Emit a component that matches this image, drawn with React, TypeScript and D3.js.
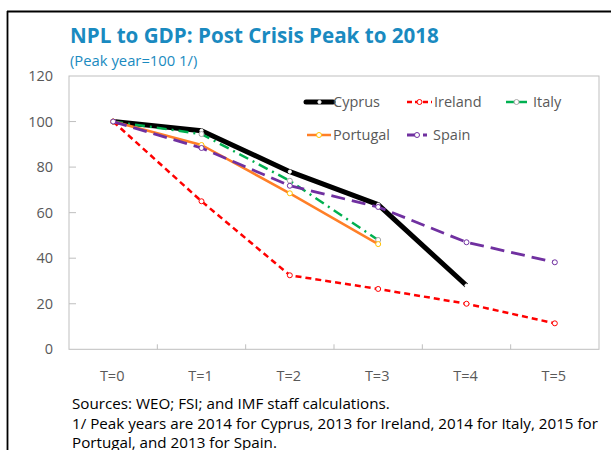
import React from "react";
import * as d3 from "d3";

const categories = ["T=0", "T=1", "T=2", "T=3", "T=4", "T=5"];
const yTicks = [0, 20, 40, 60, 80, 100, 120];

const cyprus = [100, 96, 78, 63.5, 28];
const ireland = [100, 65, 32.5, 26.5, 20, 11.4];
const italy = [100, 94.5, 74, 48];
const portugal = [100, 89.7, 68.5, 46.2];
const spain = [100, 88.4, 71.8, 62.5, 47, 38.2];

const series = [
  { name: "Cyprus", values: cyprus, color: "#000000", width: 5, dash: "", marker: "#ffffff", markerStroke: "#ffffff", r: 1.6 },
  { name: "Ireland", values: ireland, color: "#ff0000", width: 2.5, dash: "6 4", marker: "#ffffff", markerStroke: "#ff0000", r: 2.5 },
  { name: "Italy", values: italy, color: "#00b050", width: 2.5, dash: "10 5 2 5", marker: "#ffffff", markerStroke: "#a6a6a6", r: 2.5 },
  { name: "Portugal", values: portugal, color: "#ff7f27", width: 2.5, dash: "", marker: "#ffffff", markerStroke: "#ffc000", r: 2.5 },
  { name: "Spain", values: spain, color: "#7030a0", width: 2.8, dash: "14 7", marker: "#ffffff", markerStroke: "#7030a0", r: 2.5 },
];

// legend layout: [sample x0, sample x1, text x, row y]
const legendPos: Record<string, [number, number, number, number]> = {
  Cyprus: [306, 333, 333, 102],
  Ireland: [407, 432, 434, 102],
  Italy: [506, 527, 533, 102],
  Portugal: [307, 331, 333, 135],
  Spain: [407, 427, 433, 135],
};

const font = "'Open Sans', 'Noto Sans', sans-serif";
const grey = "#595959";

export default function App() {
  const plot = { left: 69, right: 599, top: 76, bottom: 349.3 };

  const x = d3.scaleBand<string>().domain(categories).range([plot.left, plot.right]);
  const y = d3.scaleLinear().domain([0, 120]).range([plot.bottom, plot.top]);
  const cx = (i: number) => (x(categories[i]) as number) + x.bandwidth() / 2;

  const line = d3
    .line<number>()
    .x((_, i) => cx(i))
    .y((d) => y(d));

  return (
    <svg
      width={611}
      height={450}
      style={{ position: "absolute", left: 0, top: 0, display: "block", background: "#fff" }}
    >
      {/* outer frame */}
      <line x1={7} y1={11.5} x2={611} y2={11.5} stroke="#000" strokeWidth={1.8} />
      <line x1={7.5} y1={11} x2={7.5} y2={450} stroke="#000" strokeWidth={1.8} />

      {/* title */}
      <text x={70} y={43} fontFamily={font} fontWeight="bold" fontSize={20.6} fill="#1a8ac0">
        NPL to GDP: Post Crisis Peak to 2018
      </text>
      <text x={70} y={66} fontFamily={font} fontSize={14.8} fill="#1a8ac0">
        (Peak year=100 1/)
      </text>

      {/* plot frame */}
      <rect
        x={plot.left}
        y={plot.top}
        width={plot.right - plot.left}
        height={plot.bottom - plot.top}
        fill="none"
        stroke="#bfbfbf"
        strokeWidth={1}
      />

      {/* y axis */}
      {yTicks.map((t) => (
        <g key={t}>
          {t > 0 && t < 120 && (
            <line x1={plot.left} x2={plot.left + 7} y1={y(t)} y2={y(t)} stroke="#bfbfbf" />
          )}
          <text
            x={53}
            y={y(t)}
            dy="0.35em"
            textAnchor="end"
            fontFamily={font}
            fontSize={14.5}
            fill={grey}
          >
            {t}
          </text>
        </g>
      ))}

      {/* x axis */}
      {categories.map((c, i) => (
        <g key={c}>
          {i > 0 && (
            <line
              x1={x(c) as number}
              x2={x(c) as number}
              y1={plot.bottom}
              y2={plot.bottom - 5}
              stroke="#bfbfbf"
            />
          )}
          <text
            x={cx(i) - 1}
            y={376}
            dy="0.35em"
            textAnchor="middle"
            fontFamily={font}
            fontSize={14.5}
            fill={grey}
          >
            {c}
          </text>
        </g>
      ))}

      {/* series */}
      {series.map((s) => (
        <g key={s.name}>
          <path
            d={line(s.values) || ""}
            fill="none"
            stroke={s.color}
            strokeWidth={s.width}
            strokeDasharray={s.dash}
            strokeLinejoin="round"
          />
          {s.values.map((v, i) => (
            <circle
              key={i}
              cx={cx(i)}
              cy={y(v)}
              r={s.r}
              fill={s.marker}
              stroke={s.markerStroke}
              strokeWidth={1}
            />
          ))}
        </g>
      ))}

      {/* legend */}
      {series.map((s) => {
        const [x0, x1, tx, ly] = legendPos[s.name];
        return (
          <g key={s.name}>
            <line
              x1={x0}
              x2={x1}
              y1={ly}
              y2={ly}
              stroke={s.color}
              strokeWidth={s.width}
              strokeDasharray={s.name === "Ireland" ? "5 3" : s.name === "Italy" ? "" : s.dash ? "12 4" : ""}
              strokeLinecap={s.name === "Cyprus" ? "round" : "butt"}
            />
            <circle
              cx={(x0 + x1) / 2}
              cy={ly}
              r={s.r}
              fill={s.marker}
              stroke={s.markerStroke}
              strokeWidth={1}
            />
            <text x={tx} y={ly} dy="0.35em" fontFamily={font} fontSize={14.5} fill={grey}>
              {s.name}
            </text>
          </g>
        );
      })}

      {/* notes */}
      <text fontFamily={font} fontSize={15.2} fill="#000">
        <tspan x={72} y={409}>Sources: WEO; FSI; and IMF staff calculations.</tspan>
        <tspan x={72} y={429}>
          1/ Peak years are 2014 for Cyprus, 2013 for Ireland, 2014 for Italy, 2015 for
        </tspan>
        <tspan x={72} y={448}>Portugal, and 2013 for Spain.</tspan>
      </text>
    </svg>
  );
}
